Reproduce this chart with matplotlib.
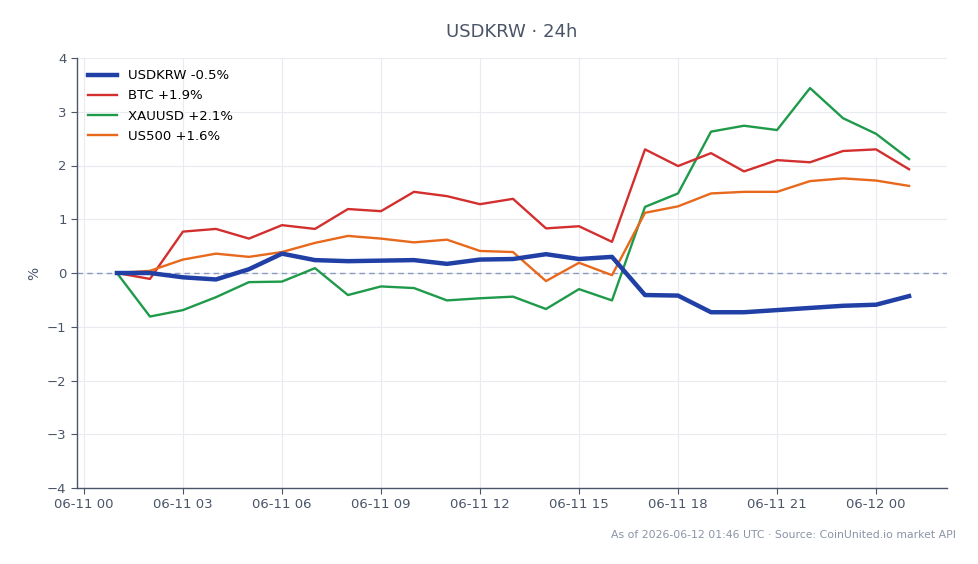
import matplotlib
matplotlib.use("Agg")
import matplotlib.pyplot as plt
import matplotlib.dates as mdates
import pandas as pd

times = pd.date_range("2026-06-11 01:00", "2026-06-12 01:00", freq="h")

usdkrw = [0.00, 0.00, -0.08, -0.12, 0.07, 0.36, 0.24, 0.22, 0.23, 0.24, 0.17, 0.25, 0.26,
          0.35, 0.26, 0.30, -0.41, -0.42, -0.73, -0.73, -0.69, -0.65, -0.61, -0.59, -0.43]
btc = [0.00, -0.11, 0.77, 0.82, 0.64, 0.89, 0.82, 1.19, 1.15, 1.51, 1.43, 1.28, 1.38,
       0.83, 0.87, 0.58, 2.30, 1.99, 2.23, 1.89, 2.10, 2.06, 2.27, 2.30, 1.93]
xauusd = [0.00, -0.81, -0.69, -0.45, -0.17, -0.16, 0.09, -0.41, -0.25, -0.28, -0.51, -0.47, -0.44,
          -0.67, -0.30, -0.51, 1.23, 1.48, 2.63, 2.74, 2.66, 3.44, 2.88, 2.59, 2.12]
us500 = [0.00, 0.04, 0.25, 0.36, 0.30, 0.39, 0.56, 0.69, 0.64, 0.57, 0.62, 0.41, 0.39,
         -0.15, 0.19, -0.04, 1.12, 1.24, 1.48, 1.51, 1.51, 1.71, 1.76, 1.72, 1.62]

labels = ["USDKRW -0.5%", "BTC +1.9%", "XAUUSD +2.1%", "US500 +1.6%"]
xtick_times = pd.date_range("2026-06-11 00:00", "2026-06-12 00:00", freq="3h")
yticks = [-4, -3, -2, -1, 0, 1, 2, 3, 4]

fig = plt.figure(figsize=(9.79, 5.64), dpi=100)
ax = fig.add_axes([77/979, 1-488/564, (947-77)/979, (488-58)/564])

ax.axhline(0, color="#8a9bbd", lw=1, ls=(0, (4, 3)), zorder=1)
ax.plot(times, usdkrw, color="#2140a6", lw=3.2, label=labels[0], zorder=5)
ax.plot(times, btc, color="#d32f2f", lw=1.7, label=labels[1], zorder=4)
ax.plot(times, xauusd, color="#1e9a4a", lw=1.7, label=labels[2], zorder=3)
ax.plot(times, us500, color="#e8681c", lw=1.7, label=labels[3], zorder=4)

x0 = pd.Timestamp("2026-06-11 00:00")
ax.set_xlim(x0 - pd.Timedelta(hours=0.21), x0 + pd.Timedelta(hours=26.15))
ax.set_ylim(-4, 4)
ax.set_yticks(yticks)
ax.set_yticklabels([("\u2212" + str(-v)) if v < 0 else str(v) for v in yticks])
ax.set_xticks(xtick_times)
ax.xaxis.set_major_formatter(mdates.DateFormatter("%m-%d %H"))

ax.grid(True, color="#e8ebf0", lw=0.8)
ax.set_axisbelow(True)
for s in ["top", "right"]:
    ax.spines[s].set_visible(False)
for s in ["left", "bottom"]:
    ax.spines[s].set_color("#4a5568")
    ax.spines[s].set_linewidth(1.0)
ax.tick_params(colors="#4a5568", labelsize=9.5, length=4)
ax.set_ylabel("%", color="#4a5568", fontsize=10)

ax.set_title("USDKRW \u00b7 24h", color="#4a5568", fontsize=13, pad=15)
leg = ax.legend(loc="upper left", frameon=False, fontsize=9.5, handlelength=2.2,
                borderaxespad=0.45, labelspacing=0.55)

fig.text(956/979, 1-535/564, "As of 2026-06-12 01:46 UTC \u00b7 Source: CoinUnited.io market API",
         ha="right", va="center", fontsize=7.85, color="#8a94a6")

fig.savefig("out.png", dpi=100)
